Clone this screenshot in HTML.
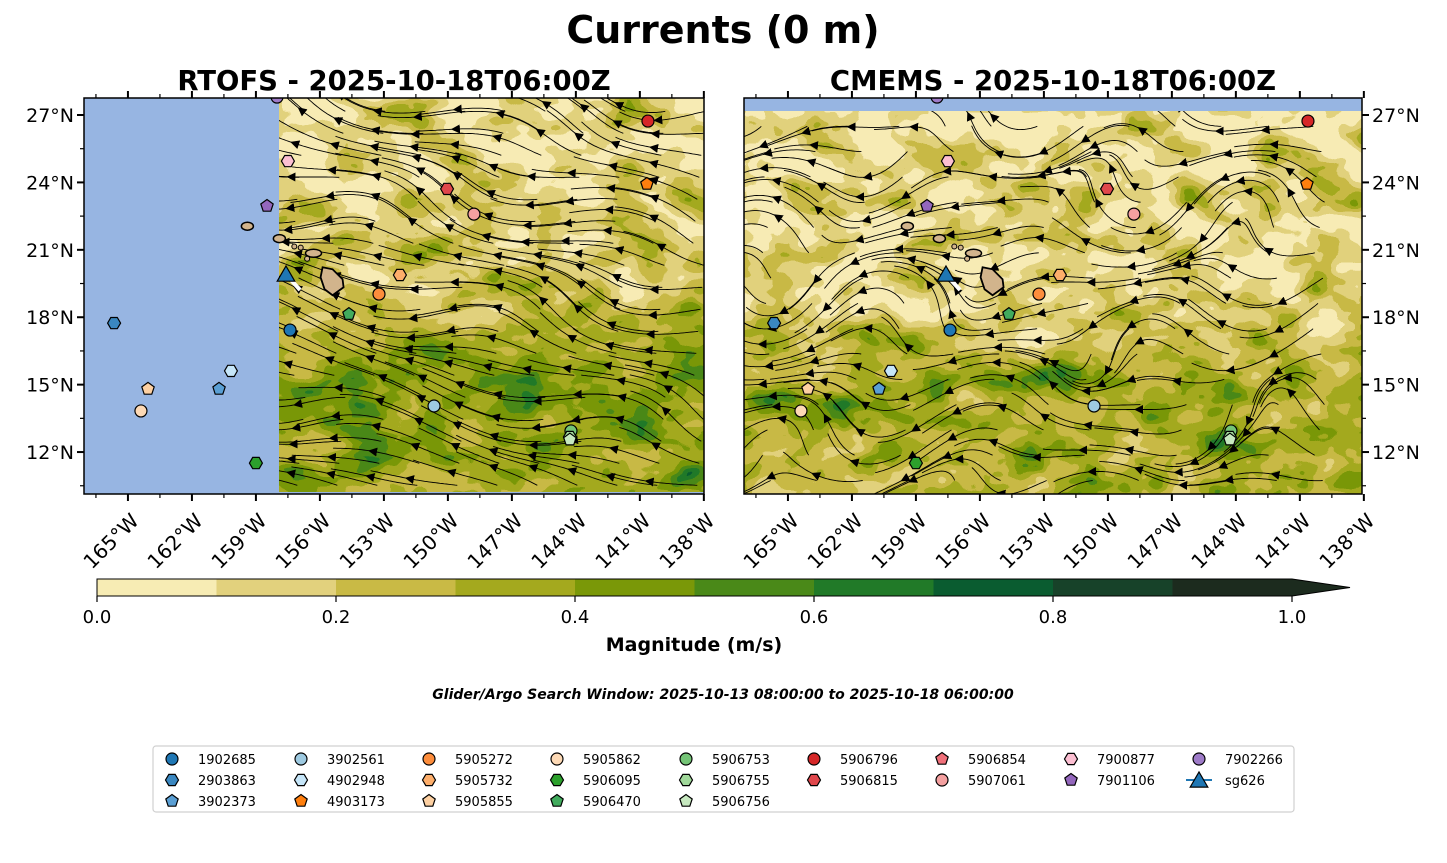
<!DOCTYPE html>
<html><head><meta charset="utf-8"><style>
html,body{margin:0;padding:0;background:#fff;}
svg{display:block;font-family:"DejaVu Sans","Liberation Sans",sans-serif;}
</style></head><body>
<svg id="fig" width="1447" height="863" viewBox="0 0 1447 863" xmlns="http://www.w3.org/2000/svg">
<defs>
<linearGradient id="gradL" x1="0" y1="0" x2="0" y2="1">
<stop offset="0" stop-color="rgb(25,25,25)"/><stop offset="0.5" stop-color="rgb(45,45,45)"/><stop offset="0.72" stop-color="rgb(105,105,105)"/><stop offset="1" stop-color="rgb(85,85,85)"/>
</linearGradient>
<linearGradient id="gradR" x1="0" y1="0" x2="0" y2="1">
<stop offset="0" stop-color="rgb(30,30,30)"/><stop offset="0.5" stop-color="rgb(40,40,40)"/><stop offset="0.75" stop-color="rgb(95,95,95)"/><stop offset="1" stop-color="rgb(70,70,70)"/>
</linearGradient>
<filter id="fieldL" x="0" y="0" width="100%" height="100%" color-interpolation-filters="sRGB">
<feTurbulence type="fractalNoise" baseFrequency="0.018 0.03" numOctaves="3" seed="4" result="n"/>
<feComposite in="SourceGraphic" in2="n" operator="arithmetic" k1="0" k2="1" k3="0.9" k4="-0.2" result="s"/>
<feColorMatrix in="s" type="matrix" values="1 0 0 0 0  1 0 0 0 0  1 0 0 0 0  0 0 0 0 1"/>
<feComponentTransfer>
<feFuncR type="discrete" tableValues="0.969 0.886 0.788 0.643 0.478 0.290 0.129 0.039 0.090 0.110"/>
<feFuncG type="discrete" tableValues="0.925 0.820 0.729 0.663 0.596 0.537 0.478 0.361 0.259 0.169"/>
<feFuncB type="discrete" tableValues="0.706 0.490 0.271 0.118 0.031 0.094 0.157 0.188 0.161 0.118"/>
</feComponentTransfer>
</filter>
<filter id="fieldR" x="0" y="0" width="100%" height="100%" color-interpolation-filters="sRGB">
<feTurbulence type="fractalNoise" baseFrequency="0.02 0.028" numOctaves="3" seed="11" result="n"/>
<feComposite in="SourceGraphic" in2="n" operator="arithmetic" k1="0" k2="1" k3="1.0" k4="-0.25" result="s"/>
<feColorMatrix in="s" type="matrix" values="1 0 0 0 0  1 0 0 0 0  1 0 0 0 0  0 0 0 0 1"/>
<feComponentTransfer>
<feFuncR type="discrete" tableValues="0.969 0.886 0.788 0.643 0.478 0.290 0.129 0.039 0.090 0.110"/>
<feFuncG type="discrete" tableValues="0.925 0.820 0.729 0.663 0.596 0.537 0.478 0.361 0.259 0.169"/>
<feFuncB type="discrete" tableValues="0.706 0.490 0.271 0.118 0.031 0.094 0.157 0.188 0.161 0.118"/>
</feComponentTransfer>
</filter>
<clipPath id="clipL"><rect x="84" y="98" width="620" height="396"/></clipPath>
<clipPath id="clipR"><rect x="744" y="98" width="618" height="396"/></clipPath>
<clipPath id="clipLF"><rect x="279" y="98" width="425" height="394"/></clipPath>
<clipPath id="clipRF"><rect x="744" y="111" width="618" height="383"/></clipPath>
<marker id="arr" viewBox="0 0 10 10" refX="5" refY="5" markerWidth="9" markerHeight="9" orient="auto"><path d="M0,0 L10,5 L0,10 z" fill="#000"/></marker>
</defs>

<text x="723" y="43" text-anchor="middle" font-size="38" font-weight="bold">Currents (0 m)</text>
<text x="394" y="90" text-anchor="middle" font-size="27.5" font-weight="bold">RTOFS - 2025-10-18T06:00Z</text>
<text x="1053" y="90" text-anchor="middle" font-size="27.5" font-weight="bold">CMEMS - 2025-10-18T06:00Z</text>

<g id="mapL">
<rect x="84" y="98" width="620" height="396" fill="#97b5e2"/>
<g clip-path="url(#clipLF)"><rect x="279" y="98" width="425" height="394" fill="url(#gradL)" filter="url(#fieldL)"/></g>
<g id="streamL" clip-path="url(#clipLF)"></g>
<g id="landL"></g>
<g id="markL" clip-path="url(#clipL)"></g>
<rect x="84" y="98" width="620" height="396" fill="none" stroke="#000" stroke-width="1.5"/>
</g>
<g id="mapR">
<rect x="744" y="98" width="618" height="396" fill="#97b5e2"/>
<g clip-path="url(#clipRF)"><rect x="744" y="111" width="618" height="383" fill="url(#gradR)" filter="url(#fieldR)"/></g>
<g id="streamR" clip-path="url(#clipRF)"></g>
<g id="landR"></g>
<g id="markR" clip-path="url(#clipR)"></g>
<rect x="744" y="98" width="618" height="396" fill="none" stroke="#000" stroke-width="1.5"/>
</g>
<g id="axes"></g>

<g id="cbar"></g>
<text x="694" y="651" text-anchor="middle" font-size="19" font-weight="bold">Magnitude (m/s)</text>
<text x="723" y="699" text-anchor="middle" font-size="14" font-weight="bold" font-style="italic">Glider/Argo Search Window: 2025-10-13 08:00:00 to 2025-10-18 06:00:00</text>

<g>
<rect x="153" y="746" width="1141" height="66" rx="3" fill="#fff" stroke="#d0d0d0" stroke-width="1.2"/>
<g id="legend"></g>
</g>
</svg>
<script>
// ---- data ----
const platformNames = ["1902685","2903863","3902373","3902561","4902948","4903173","5905272","5905732","5905855","5905862","5906095","5906470","5906753","5906755","5906756","5906796","5906815","5906854","5907061","7900877","7901106","7902266","sg626"];
const platformColors = ["#1f77b4","#3a87c0","#5a9fd4","#9ecae1","#c6e6f9","#ff7f0e","#fd8d3c","#fdae6b","#fdd0a2","#fdd9b5","#2ca02c","#41ab5d","#74c476","#a1d99b","#c7e9c0","#d62728","#e0474c","#f0707a","#f4a0a0","#fcbfd2","#9467bd","#9e7bc8","#1f77b4"];
const platformShapes = ["circle","hex","pent","circle","hex","pent","circle","hex","pent","circle","hex","pent","circle","hex","pent","circle","hex","pent","circle","hex","pent","circle","tri"];
const platformLon = [-157.40,-165.65,-160.73,-150.65,-160.17,-140.67,-153.23,-152.25,-164.06,-164.39,-159.0,-154.64,-144.23,-144.28,-144.28,-140.62,-150.04,null,-148.78,-157.5,-158.48,-158.01,-157.59];
const platformLat = [17.43,17.74,14.81,14.05,15.61,23.93,19.03,19.88,14.81,13.83,11.51,18.14,12.94,12.67,12.55,26.73,23.71,null,22.59,24.95,22.95,27.80,19.92];
const gliderTrackLon = [-157.59,-157.3,-156.93];
const gliderTrackLat = [19.92,19.6,19.21];
const latTicks = [27,24,21,18,15,12];
const lonTicks = [-165,-162,-159,-156,-153,-150,-147,-144,-141,-138];
const cbarLevels = [0,0.1,0.2,0.3,0.4,0.5,0.6,0.7,0.8,0.9,1.0];
const cbarColors = ["#f7ecb4","#e2d17d","#c9ba45","#a4a91e","#7a9808","#4a8918","#217a28","#0a5c30","#174229","#1c2b1e"];
const cbarTicks = [0,0.2,0.4,0.6,0.8,1.0];

const NS="http://www.w3.org/2000/svg";
function mk(tag,attrs,parent){const e=document.createElementNS(NS,tag);for(const k in attrs)e.setAttribute(k,attrs[k]);if(parent)parent.appendChild(e);return e;}
const lonMin=-167.06, pxPerLon=21.33;
function xL(lon){return 84+(lon-lonMin)*pxPerLon;}
function xR(lon){return 744+(lon-lonMin)*pxPerLon;}
function yMap(lat){return 115+(27-lat)*22.47;}
function xCb(v){return 97+v*1195;}

function shape(g,kind,cx,cy,r,fill,sw){
  let e;
  if(kind==="circle"){e=mk("circle",{cx:cx,cy:cy,r:r,fill:fill,stroke:"#000","stroke-width":sw},g);}
  else{
    const n=kind==="hex"?6:(kind==="pent"?5:3);
    const rr=kind==="tri"?r*1.35:r*1.08;const off=kind==="hex"?Math.PI/6:0;
    let pts=[];for(let i=0;i<n;i++){const a=-Math.PI/2+off+i*2*Math.PI/n;pts.push((cx+rr*Math.cos(a)).toFixed(1)+","+(cy+rr*Math.sin(a)+(kind==="tri"?rr*0.2:0)).toFixed(1));}
    e=mk("polygon",{points:pts.join(" "),fill:fill,stroke:"#000","stroke-width":sw},g);
  }
  return e;
}

function drawIslands(gid,fx){
  const g=document.getElementById(gid);
  const defs=[{lon:-159.4,lat:22.05,rx:6,ry:4},{lon:-157.9,lat:21.5,rx:6,ry:4},{lon:-156.3,lat:20.85,rx:8,ry:4}];
  defs.forEach(d=>{const e=mk("ellipse",{cx:fx(d.lon),cy:yMap(d.lat),rx:d.rx,ry:d.ry,fill:"#d2b48c",stroke:"#000","stroke-width":1.5},g);
    
    });
  const bx=fx(-155.5), by=yMap(19.6);
  const p=mk("path",{d:`M${bx-8},${by-14} L${bx+2},${by-12} L${bx+12},${by-2} L${bx+13},${by+6} L${bx+2},${by+14} L${bx-6},${by+8} L${bx-10},${by-4} Z`,fill:"#d2b48c",stroke:"#000","stroke-width":1.8},g);
  
  
  [[-156.9,21.1],[-157.2,21.15],[-156.6,20.6]].forEach(s=>{const c=mk("circle",{cx:fx(s[0]),cy:yMap(s[1]),r:2.5,fill:"#d2b48c",stroke:"#000","stroke-width":1},g);
    
    });
}
drawIslands("landL",xL);drawIslands("landR",xR);

function stream(gid,x0,y0,w,h,fu,fv,sp){
  const g=document.getElementById(gid);
  for(let sx=x0+sp/2;sx<x0+w;sx+=sp){for(let sy=y0+sp/3;sy<y0+h;sy+=sp*0.55){
    let x=sx+((sy*7)%13)-6,y=sy;let pts=[[x,y]];
    for(let i=0;i<40;i++){const u=fu(x,y),v=fv(x,y);const m=Math.hypot(u,v)||1;x+=2.2*u/m;y+=2.2*v/m;pts.push([x,y]);}
    const d="M"+pts.map(p=>p[0].toFixed(1)+","+p[1].toFixed(1)).join(" L");
    const pl=mk("path",{d:d,fill:"none",stroke:"#000","stroke-width":0.9},g);
    
    
    const a=pts[20],b=pts[22];
    const ar=mk("path",{d:`M${a[0].toFixed(1)},${a[1].toFixed(1)} L${b[0].toFixed(1)},${b[1].toFixed(1)}`,stroke:"none",fill:"none","marker-end":"url(#arr)"},g);
    
    
  }}
}
stream("streamL",279,98,425,394,(x,y)=>-1+0.35*Math.sin(y*0.04+x*0.015),(x,y)=>-0.25+0.45*Math.sin(x*0.025)*Math.cos(y*0.03),40);
stream("streamR",744,111,618,383,(x,y)=>-0.7+0.6*Math.sin(y*0.035+x*0.01)*Math.cos(x*0.02),(x,y)=>-0.5*Math.cos(y*0.03)*Math.sin(x*0.025)+0.3*Math.sin(x*0.04+y*0.02),46);

function drawMarkers(gid,fx){
  const g=document.getElementById(gid);
  const tr=mk("polyline",{points:gliderTrackLon.map((l,i)=>fx(l).toFixed(1)+","+yMap(gliderTrackLat[i]).toFixed(1)).join(" "),fill:"none",stroke:"#fff","stroke-width":4},g);
  
  
  platformNames.forEach((n,i)=>{
    if(platformLon[i]===null)return;
    const e=shape(g,platformShapes[i],fx(platformLon[i]),yMap(platformLat[i]),platformShapes[i]==="tri"?7.5:6,platformColors[i],1.2);
    
    
  });
}
drawMarkers("markL",xL);drawMarkers("markR",xR);

(function(){
  const g=document.getElementById("axes");
  [[84,704,xL,true],[744,1362,xR,false]].forEach(([x0,x1,fx,left])=>{
    latTicks.forEach(lat=>{
      const y=yMap(lat);
      const sx=left?x0:x1, dir=left?-1:1;
      mk("line",{x1:sx,y1:y,x2:sx+dir*7,y2:y,stroke:"#000","stroke-width":2},g);
      const t=mk("text",{x:left?sx-10:sx+10,y:y+7,"text-anchor":left?"end":"start","font-size":19},g);
      t.textContent=lat+"°N";
      
      
    });
    for(let lat=10.5;lat<27.8;lat+=1.5){const y=yMap(lat);const sx=left?x0:x1;mk("line",{x1:sx,y1:y,x2:sx+(left?-4:4),y2:y,stroke:"#000","stroke-width":1.2},g);}
    lonTicks.forEach(lon=>{
      const x=fx(lon);
      mk("line",{x1:x,y1:494,x2:x,y2:501,stroke:"#000","stroke-width":2},g);
      mk("line",{x1:x,y1:98,x2:x,y2:91,stroke:"#000","stroke-width":2},g);
      const ax=x+12, ay=522;
      const t=mk("text",{x:ax,y:ay,"text-anchor":"end","font-size":20,transform:`rotate(-45 ${ax} ${ay})`},g);
      t.textContent=Math.abs(lon)+"°W";
      
      
    });
    for(let lon=-166.5;lon<-138;lon+=1.5){const x=fx(lon);if(x<x0||x>x1)continue;mk("line",{x1:x,y1:494,x2:x,y2:498,stroke:"#000","stroke-width":1.2},g);mk("line",{x1:x,y1:98,x2:x,y2:94,stroke:"#000","stroke-width":1.2},g);}
  });
})();

(function(){
  const g=document.getElementById("cbar");
  cbarColors.forEach((c,i)=>{
    const r=mk("rect",{x:xCb(cbarLevels[i]),y:579,width:xCb(cbarLevels[i+1])-xCb(cbarLevels[i])+0.5,height:17,fill:c},g);
    
    
  });
  const tri=mk("polygon",{points:`${xCb(1)},579 1350,587.5 ${xCb(1)},596`,fill:"#1c2b1e"},g);
  
  
  mk("polygon",{points:`${xCb(0)},579 ${xCb(1)},579 1350,587.5 ${xCb(1)},596 ${xCb(0)},596`,fill:"none",stroke:"#000","stroke-width":1},g);
  cbarTicks.forEach(v=>{
    const x=xCb(v);mk("line",{x1:x,y1:596,x2:x,y2:602,stroke:"#000","stroke-width":1.2},g);
    const t=mk("text",{x:x,y:623,"text-anchor":"middle","font-size":18},g);
    t.textContent=v.toFixed(1);
    
    
  });
})();

(function(){
  const g=document.getElementById("legend");
  const colX=[172,301,429,557,686,814,942,1071,1199];
  platformNames.forEach((n,i)=>{
    let ci,ri;
    if(i<15){ci=Math.floor(i/3);ri=i%3;}
    else{ci=5+Math.floor((i-15)/2);ri=(i-15)%2;}
    const x=colX[ci], y=759+ri*21;
    const it=mk("g",{},g);
    
    
    if(platformShapes[i]==="tri")mk("line",{x1:x-13,y1:y,x2:x+13,y2:y,stroke:"#1f77b4","stroke-width":2},it);
    shape(it,platformShapes[i],x,y,platformShapes[i]==="tri"?7.5:6,platformColors[i],1.2);
    const t=mk("text",{x:x+26,y:y+5,"font-size":13},it);
    t.textContent=n;
  });
})();
</script>
</body></html>
